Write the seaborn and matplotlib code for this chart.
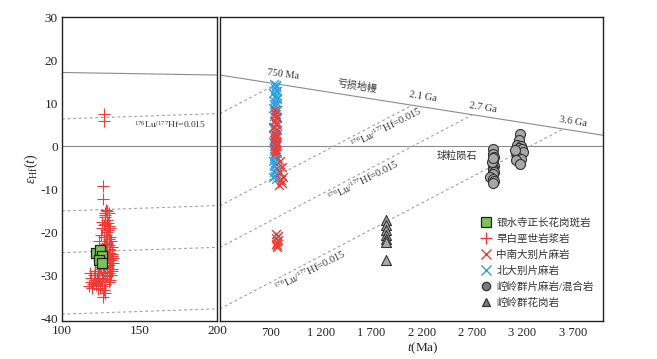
import matplotlib
matplotlib.use("Agg")
import matplotlib.pyplot as plt
from matplotlib.lines import Line2D
import seaborn as sns
import pandas as pd

# ---------------- data ----------------
# 银水寺正长花岗斑岩 (left panel)
sq_t = [122.0, 124.5, 126.0, 124.0, 125.5]
sq_e = [-24.8, -24.0, -25.5, -26.5, -27.0]

# 早白垩世岩浆岩 (left panel)
pl_t = [127, 127, 126.5, 126.5, 129, 130, 128, 127.5, 129, 128, 130, 131, 129.5, 128.5,
        127, 130, 131.5, 129, 127.5, 132, 130.5, 128, 126, 131, 129.5, 132.5, 127.5, 130,
        131.5, 128.5, 126.5, 133, 130, 129, 127, 131, 125, 132, 128, 130.5, 126.5, 124,
        129, 127.5, 131, 125.5, 123, 128, 126, 124.5, 127, 126.5, 118, 119, 118.5, 120,
        117.5, 121, 119.5, 122, 120.5, 121.5, 122.5, 123.5, 124.5, 125, 125.5, 124, 125,
        126, 127, 126, 127.5, 128.5, 131, 132, 133, 132.5, 131.5, 130, 128, 129, 130,
        128, 127, 129.5, 131, 128.5, 126, 122, 123]
pl_e = [7.5, 5.8, -9.3, -12.2, -15.0, -15.5, -16.0, -16.5, -17.0, -18.0, -18.5, -19.0,
        -19.5, -20.5, -21.0, -21.5, -22.0, -22.5, -23.0, -23.5, -23.8, -24.0, -24.5,
        -24.8, -25.2, -25.5, -25.8, -26.2, -26.5, -26.8, -27.0, -27.2, -27.5, -28.0,
        -28.2, -28.5, -28.6, -29.0, -29.2, -29.5, -29.8, -30.0, -30.2, -30.8, -31.0,
        -31.2, -31.5, -32.0, -32.5, -33.0, -33.5, -35.0, -29.5, -30.5, -31.5, -32.0,
        -32.5, -31.0, -33.0, -32.2, -30.0, -29.0, -30.5, -29.5, -28.0, -27.0, -26.0,
        -22.0, -20.5, -19.0, -18.3, -17.5, -15.5, -14.8, -21.0, -25.0, -26.0, -28.5,
        -30.0, -31.5, -34.0, -20.0, -23.0, -27.8, -25.5, -17.8, -24.2, -22.8, -30.5,
        -31.8, -33.2]

# 中南大别片麻岩 (right panel)
rx_t = [750, 742, 758, 746, 754, 738, 762, 744, 756, 750, 740, 760, 746, 754, 742,
        758, 750, 800, 812, 795, 822, 805, 815, 790, 760, 772, 752, 778, 765, 758, 770, 765]
rx_e = [8.5, 7.5, 6.8, 6.0, 5.2, 4.5, 3.8, 3.0, 2.5, 2.0, 1.5, 1.0, 0.5, 0.0, -0.5,
        -1.0, -1.5, -3.3, -4.8, -6.0, -7.0, -7.8, -8.6, -9.0, -20.3, -20.8, -21.3,
        -21.8, -22.2, -22.6, -23.0, -23.3]

# 北大别片麻岩 (right panel)
bx_t = [735, 760, 748, 768, 730, 755, 742, 765, 738, 762, 750, 728, 770, 744, 758,
        734, 766, 740, 752, 768, 730, 756, 744, 764, 736, 760, 748, 730, 770, 740,
        758, 734, 766, 750, 742, 768, 730, 756, 738, 762, 748, 740, 766, 730, 758,
        752, 736, 764, 744, 756, 738, 768, 748, 770, 728, 745, 755]
bx_e = [14.5, 14.0, 13.5, 13.0, 12.5, 12.0, 11.5, 11.0, 10.5, 10.0, 9.5, 9.0, 8.5,
        8.0, 7.5, 7.0, 6.5, 6.0, 5.5, 5.0, 4.5, 4.0, 3.5, 3.0, 2.5, 2.0, 1.5, 1.0,
        0.5, 0.0, -0.5, -1.0, -1.5, -2.0, -2.5, -3.0, -3.5, -4.0, -4.5, -5.0, -5.5,
        -6.0, -6.5, -7.0, -7.5, 12.8, 9.8, 6.8, 3.8, 0.8, -2.2, -5.2, -6.8, 11.2,
        4.2, -3.8, 14.2]

# 崆岭群片麻岩/混合岩 (right panel)
ci_t = [2910, 2905, 2915, 2910, 2905, 2915, 2910, 2905, 2915, 2910, 2880, 2905, 2915,
        2910, 2900, 2910, 3175, 3170, 3150, 3185, 3165, 3200, 3135, 3170, 3205, 3150,
        3185, 3140, 3175, 3130]
ci_e = [-0.5, -1.8, -2.5, -3.2, -4.0, -4.5, -5.0, -5.5, -6.0, -6.5, -7.2, -7.5, -8.0,
        -8.5, -3.6, -2.8, 3.0, 1.6, 0.3, 0.2, -0.4, -0.6, -1.5, -1.8, -1.2, -2.5,
        -3.0, -3.2, -4.0, -0.9]

# 崆岭群花岗岩 (right panel)
tr_t = [1845, 1845, 1845, 1845, 1845, 1845, 1845]
tr_e = [-17.0, -18.3, -19.5, -20.5, -21.5, -22.3, -26.5]

# reference curves
dm_t = [100, 200, 4000]          # 亏损地幔
dm_e = [17.2, 16.6, 2.6]
chur_t = [100, 4000]             # 球粒陨石
chur_e = [0, 0]
crust_t = [[100, 750], [100, 2100], [100, 2700], [100, 3600]]   # 176Lu/177Hf = 0.015
crust_e = [[6.4, 14.4], [-15.0, 9.5], [-24.7, 7.3], [-39.0, 4.0]]

right_ticks = [700, 1200, 1700, 2200, 2700, 3200, 3700]
right_ticklabels = ["700", "1 200", "1 700", "2 200", "2 700", "3 200", "3 700"]
left_ticks = [100, 150, 200]
y_ticks = [30, 20, 10, 0, -10, -20, -30, -40]

labels = ["银水寺正长花岗斑岩", "早白垩世岩浆岩", "中南大别片麻岩",
          "北大别片麻岩", "崆岭群片麻岩/混合岩", "崆岭群花岗岩"]

# ---------------- style ----------------
sns.set_theme(style="white")
plt.rcParams["font.family"] = ["Liberation Serif", "Noto Sans CJK SC", "DejaVu Sans"]
plt.rcParams["mathtext.fontset"] = "custom"
plt.rcParams["mathtext.rm"] = "Liberation Serif"
plt.rcParams["mathtext.it"] = "Liberation Serif:italic"
plt.rcParams["mathtext.fallback"] = "stix"
plt.rcParams["axes.unicode_minus"] = False

C_RED = "#f03a36"
C_BLUE = "#35a0dc"
C_GREEN = "#7cc25a"
C_GRAY = "#a8a8a8"
C_EDGE = "#333333"
C_LINE = "#8c8c8c"

fig = plt.figure(figsize=(6.57, 3.59), dpi=100)
axL = fig.add_axes([62 / 657, 1 - 321 / 359, 155 / 657, 304 / 359])
axR = fig.add_axes([220 / 657, 1 - 321 / 359, 383 / 657, 304 / 359])

ylim = (-40.6, 30.1)

for ax, xlim in ((axL, (100, 200)), (axR, (200, 4000))):
    ax.plot(dm_t, dm_e, color=C_LINE, lw=0.8, zorder=1)
    ax.plot(chur_t, chur_e, color=C_LINE, lw=0.8, zorder=1)
    for tt, ee in zip(crust_t, crust_e):
        ax.plot(tt, ee, color="#a0a0a0", lw=0.8, ls=(0, (2.5, 2.5)), zorder=1)
    ax.set_xlim(*xlim)
    ax.set_ylim(*ylim)
    for sp in ax.spines.values():
        sp.set_visible(True)
        sp.set_color("#222222")
        sp.set_linewidth(1.0)

# left panel data
sns.scatterplot(data=pd.DataFrame({"t": pl_t, "e": pl_e}), x="t", y="e", ax=axL,
                marker="+", color=C_RED, s=64, linewidth=0.8, zorder=3, legend=False)
sns.scatterplot(data=pd.DataFrame({"t": sq_t, "e": sq_e}), x="t", y="e", ax=axL,
                marker="s", color=C_GREEN, edgecolor="#222222", s=50, linewidth=0.9,
                zorder=4, legend=False)

# right panel data
sns.scatterplot(data=pd.DataFrame({"t": bx_t, "e": bx_e}), x="t", y="e", ax=axR,
                marker="x", color=C_BLUE, s=40, linewidth=1.0, zorder=3, legend=False)
sns.scatterplot(data=pd.DataFrame({"t": rx_t, "e": rx_e}), x="t", y="e", ax=axR,
                marker="x", color=C_RED, s=40, linewidth=1.0, zorder=4, legend=False)
sns.scatterplot(data=pd.DataFrame({"t": ci_t, "e": ci_e}), x="t", y="e", ax=axR,
                marker="o", color=C_GRAY, edgecolor=C_EDGE, s=52, linewidth=0.8,
                zorder=4, legend=False)
sns.scatterplot(data=pd.DataFrame({"t": tr_t, "e": tr_e}), x="t", y="e", ax=axR,
                marker="^", color=C_GRAY, edgecolor=C_EDGE, s=52, linewidth=0.8,
                zorder=4, legend=False)

# axes
axL.set_xticks(left_ticks)
axL.set_yticks(y_ticks)
axL.tick_params(axis="both", direction="in", length=4, width=0.8, labelsize=9.5,
                colors="#222222", pad=3)
axL.set_xlabel("")
axL.set_ylabel(r"$\varepsilon_{\rm Hf}(t)$", fontsize=10, labelpad=0)

axR.set_xticks(right_ticks)
axR.set_xticklabels(right_ticklabels)
axR.set_yticks([])
axR.tick_params(axis="x", direction="in", length=4, width=0.8, labelsize=9,
                colors="#222222", pad=4)
axR.set_ylabel("")
axR.set_xlabel("")
fig.text(423 / 657, 1 - 348 / 359, r"$t$(Ma)", ha="center", va="center", fontsize=9.5)

# annotations
tc = "#333333"
axR.text(822, 16.7, "750 Ma", fontsize=7.5, ha="center", va="center", rotation=-7, color=tc)
axR.text(1560, 14.0, "亏损地幔", fontsize=7.3, ha="center", va="center", rotation=-9, color=tc)
axR.text(2215, 11.6, "2.1 Ga", fontsize=7.5, ha="center", va="center", rotation=-9, color=tc)
axR.text(2810, 9.0, "2.7 Ga", fontsize=7.5, ha="center", va="center", rotation=-9, color=tc)
axR.text(3700, 5.8, "3.6 Ga", fontsize=7.5, ha="center", va="center", rotation=-9, color=tc)
axR.text(2550, -2.3, "球粒陨石", fontsize=7.3, ha="center", va="center", color=tc)
lu = r"$^{176}$Lu/$^{177}$Hf=0.015"
axL.text(169.7, 5.1, lu, fontsize=6.8, ha="center", va="center", color=tc)
axR.text(1845, 4.4, lu, fontsize=7.5, ha="center", va="center", rotation=27, color=tc)
axR.text(1617, -7.9, lu, fontsize=7.5, ha="center", va="center", rotation=27, color=tc)
axR.text(1093, -28.8, lu, fontsize=7.5, ha="center", va="center", rotation=27, color=tc)

# legend
handles = [
    Line2D([], [], ls="none", marker="s", markersize=6.5, markerfacecolor=C_GREEN,
           markeredgecolor="#222222", markeredgewidth=0.9),
    Line2D([], [], ls="none", marker="+", markersize=8, color=C_RED, markeredgewidth=1.0),
    Line2D([], [], ls="none", marker="x", markersize=6.5, color=C_RED, markeredgewidth=1.0),
    Line2D([], [], ls="none", marker="x", markersize=6.5, color=C_BLUE, markeredgewidth=1.0),
    Line2D([], [], ls="none", marker="o", markersize=6, markerfacecolor="#7a7a7a",
           markeredgecolor=C_EDGE, markeredgewidth=0.9),
    Line2D([], [], ls="none", marker="^", markersize=6, markerfacecolor="#7a7a7a",
           markeredgecolor=C_EDGE, markeredgewidth=0.9),
]
leg = fig.legend(handles, labels, loc="upper left",
                 bbox_to_anchor=(481 / 657, 1 - 218 / 359),
                 frameon=False, fontsize=7.6, handlelength=1.0, handletextpad=0.45,
                 labelspacing=0.55, borderpad=0, borderaxespad=0)
for t in leg.get_texts():
    t.set_color("#333333")

fig.savefig("out.png", dpi=100)
